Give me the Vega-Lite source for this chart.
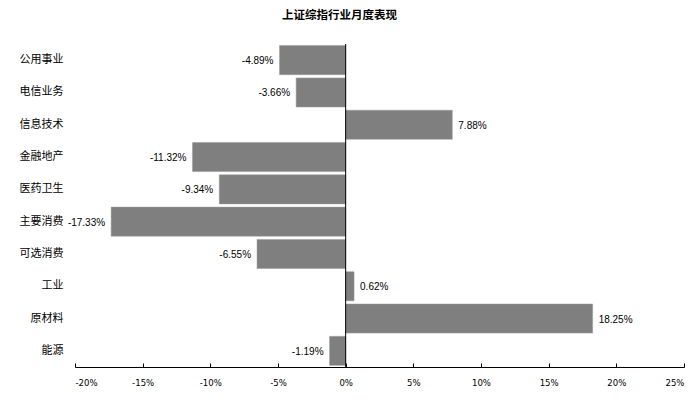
{
  "$schema": "https://vega.github.io/schema/vega-lite/v6.json",
  "width": 609,
  "height": 323,
  "autosize": {"type": "none"},
  "padding": {"left": 75, "top": 44, "right": 16, "bottom": 36},
  "background": "white",
  "title": {
    "text": "上证综指行业月度表现",
    "font": "Noto Sans CJK SC",
    "fontSize": 11.5,
    "fontWeight": "bold",
    "color": "black",
    "anchor": "middle",
    "offset": 22,
    "dx": -40
  },
  "config": {
    "view": {"stroke": null},
    "text": {"font": "Liberation Sans"}
  },
  "data": {
    "values": [
      {"industry": "公用事业", "value": -4.89, "label": "-4.89%"},
      {"industry": "电信业务", "value": -3.66, "label": "-3.66%"},
      {"industry": "信息技术", "value": 7.88, "label": "7.88%"},
      {"industry": "金融地产", "value": -11.32, "label": "-11.32%"},
      {"industry": "医药卫生", "value": -9.34, "label": "-9.34%"},
      {"industry": "主要消费", "value": -17.33, "label": "-17.33%"},
      {"industry": "可选消费", "value": -6.55, "label": "-6.55%"},
      {"industry": "工业", "value": 0.62, "label": "0.62%"},
      {"industry": "原材料", "value": 18.25, "label": "18.25%"},
      {"industry": "能源", "value": -1.19, "label": "-1.19%"}
    ]
  },
  "layer": [
    {
      "mark": {"type": "bar", "color": "#7f7f7f", "stroke": "#9a9a9a", "strokeWidth": 0.5},
      "encoding": {
        "y": {
          "field": "industry",
          "type": "nominal",
          "sort": null,
          "scale": {"paddingInner": 0.1, "paddingOuter": 0.05},
          "axis": {
            "title": null,
            "domain": false,
            "ticks": false,
            "labelPadding": 12,
            "labelFont": "Noto Sans CJK SC",
            "labelFontSize": 11,
            "labelColor": "black"
          }
        },
        "x": {
          "field": "value",
          "type": "quantitative",
          "scale": {"domain": [-20, 25], "nice": false, "zero": false},
          "axis": {
            "title": null,
            "values": [-20, -15, -10, -5, 0, 5, 10, 15, 20, 25],
            "labelExpr": "datum.value + '%'",
            "grid": false,
            "domainColor": "black",
            "tickColor": "black",
            "tickSize": -4,
            "labelPadding": 14,
            "labelFont": "DejaVu Sans Condensed",
            "labelFontSize": 9.5,
            "labelColor": "black"
          }
        }
      }
    },
    {
      "transform": [{"filter": "datum.value < 0"}],
      "mark": {"type": "text", "fontSize": 10, "color": "black", "dy": 1, "align": "right", "dx": -6},
      "encoding": {
        "y": {"field": "industry", "type": "nominal", "sort": null},
        "x": {"field": "value", "type": "quantitative"},
        "text": {"field": "label"}
      }
    },
    {
      "transform": [{"filter": "datum.value >= 0"}],
      "mark": {"type": "text", "fontSize": 10, "color": "black", "dy": 1, "align": "left", "dx": 6},
      "encoding": {
        "y": {"field": "industry", "type": "nominal", "sort": null},
        "x": {"field": "value", "type": "quantitative"},
        "text": {"field": "label"}
      }
    },
    {
      "data": {"values": [{"x": 0}]},
      "mark": {"type": "rule", "color": "black", "strokeWidth": 1},
      "encoding": {"x": {"field": "x", "type": "quantitative"}}
    }
  ]
}
